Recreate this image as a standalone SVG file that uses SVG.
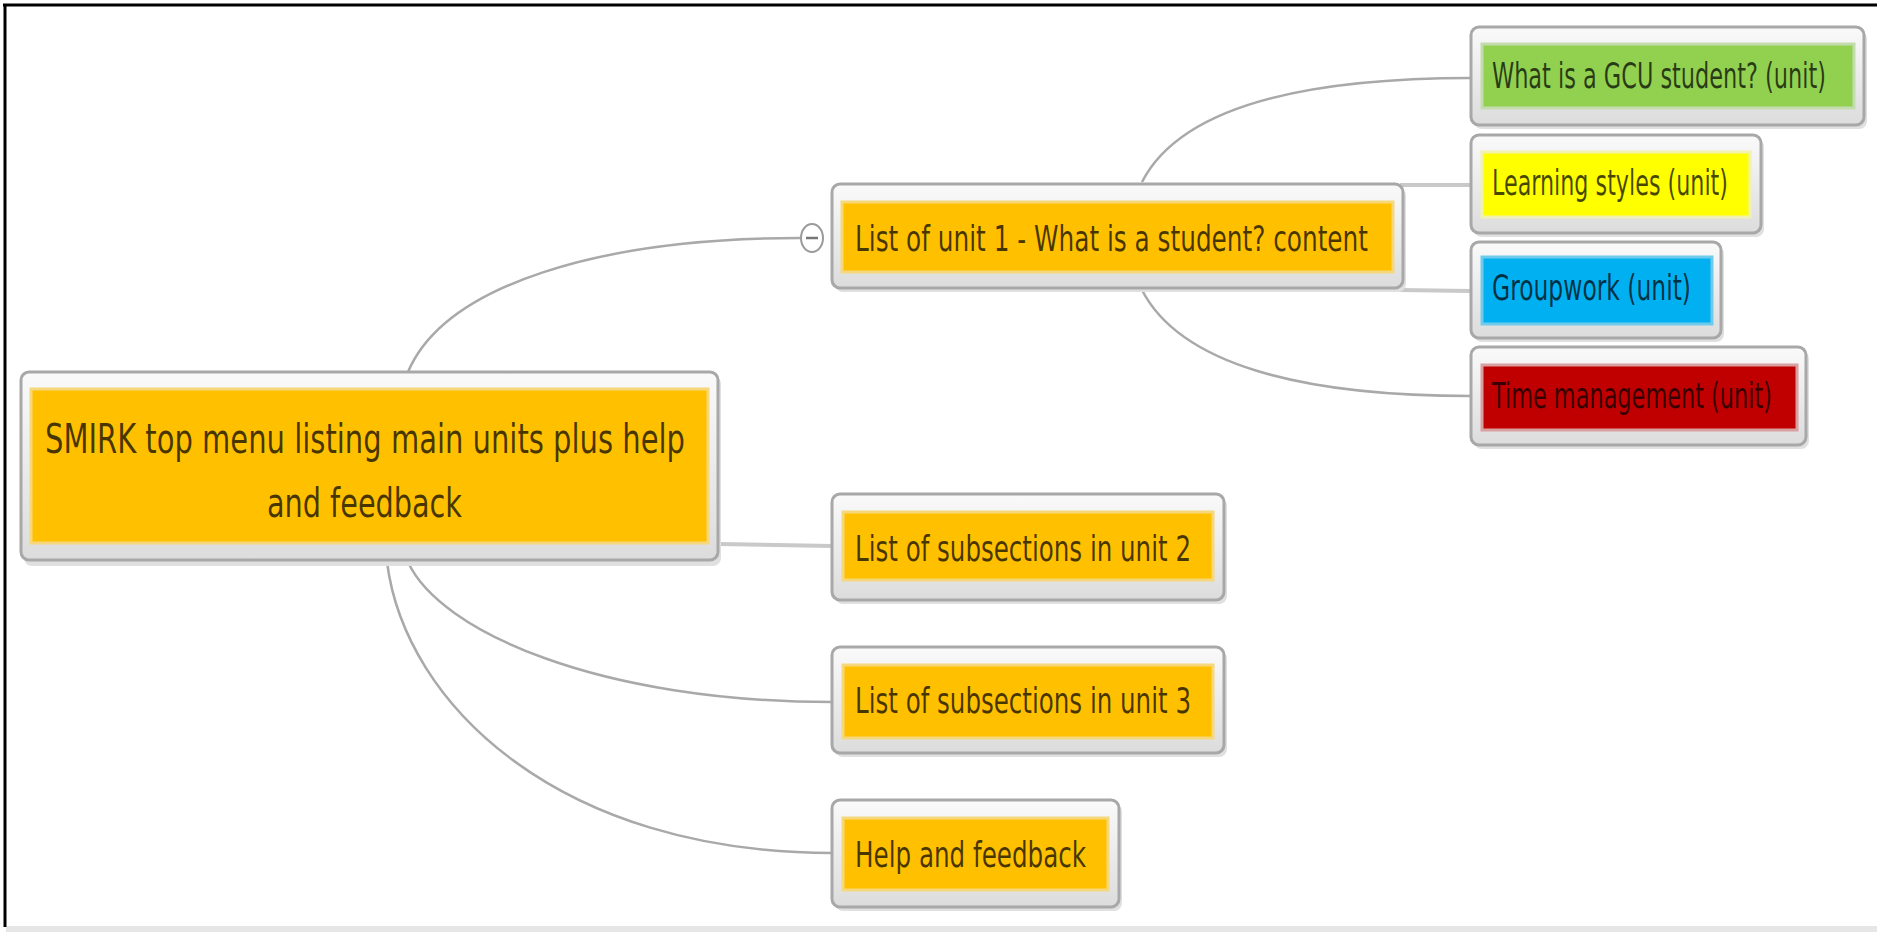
<svg xmlns="http://www.w3.org/2000/svg" width="1877" height="932" viewBox="0 0 1877 932">
<defs>
<linearGradient id="shell" x1="0" y1="0" x2="0" y2="1">
<stop offset="0" stop-color="#fafafa"/>
<stop offset="1" stop-color="#dcdcdc"/>
</linearGradient>
</defs>
<style>
.shadow{fill:#e0e0e0;}
.shell{fill:url(#shell);stroke:#a8a8a8;stroke-width:3;}
.inner{stroke-width:3;}
.orange{fill:#FFC000;stroke:#f6d77c;}
.green{fill:#92D050;stroke:#c3dcae;}
.yellow{fill:#FFFF00;stroke:#f2f2b0;}
.blue{fill:#00B0F0;stroke:#6fcbec;}
.red{fill:#C00000;stroke:#d8a0a0;}
.lbl{font-family:"Liberation Sans Narrow","DejaVu Sans Condensed","Liberation Sans",sans-serif;font-size:36px;fill:#000;fill-opacity:0.72;}
.big{font-size:40px;}
.end{text-anchor:end;}
.curve{fill:none;stroke:#a9a9a9;stroke-width:2.5;}
.straight{fill:none;stroke:#c9c9c9;stroke-width:4;}
</style>
<rect x="0" y="0" width="1877" height="932" fill="#ffffff"/>
<rect x="6" y="926" width="1871" height="6" fill="#e6e6e6"/>
<line x1="3" y1="5" x2="1877" y2="5" stroke="#000" stroke-width="3"/>
<line x1="5" y1="4" x2="5" y2="927" stroke="#000" stroke-width="3"/>

<g id="connectors">
<path class="curve" d="M408,372 C445,285 600,238 800,238"/>
<path class="straight" d="M718,544 L832,546"/>
<path class="curve" d="M408,562 C440,632 600,702 832,702"/>
<path class="curve" d="M387,562 C405,705 560,853 832,853"/>
<path class="curve" d="M1142,182 C1180,108 1300,78 1471,78"/>
<path class="straight" d="M1400,185 L1471,185"/>
<path class="straight" d="M1400,290 L1471,291"/>
<path class="curve" d="M1142,290 C1180,364 1300,396 1471,396"/>
<g id="collapse">
<ellipse cx="812" cy="238" rx="11" ry="14" fill="#ffffff" stroke="#9a9a9a" stroke-width="2"/>
<line x1="806" y1="238" x2="818" y2="238" stroke="#777" stroke-width="2.5"/>
</g>
</g>

<g id="main">
<rect class="shadow" x="24" y="376" width="697" height="190" rx="8"/>
<rect class="shell" x="21" y="372" width="697" height="188" rx="8"/>
<rect class="inner orange" x="31" y="389" width="677" height="154"/>
<text class="lbl big" x="45" y="453" textLength="640" lengthAdjust="spacingAndGlyphs">SMIRK top menu listing main units plus help</text>
<text class="lbl big" x="267" y="517" textLength="195" lengthAdjust="spacingAndGlyphs">and feedback</text>
</g>

<g id="unit1">
<rect class="shadow" x="835" y="188" width="571" height="104" rx="8"/>
<rect class="shell" x="832" y="184" width="571" height="104" rx="8"/>
<rect class="inner orange" x="842" y="202" width="551" height="70"/>
<text class="lbl" x="855" y="251" textLength="513" lengthAdjust="spacingAndGlyphs">List of unit 1 - What is a student? content</text>
</g>

<g id="unit2">
<rect class="shadow" x="835" y="498" width="392" height="106" rx="8"/>
<rect class="shell" x="832" y="494" width="392" height="106" rx="8"/>
<rect class="inner orange" x="843" y="512" width="370" height="68"/>
<text class="lbl" x="855" y="561" textLength="336" lengthAdjust="spacingAndGlyphs">List of subsections in unit 2</text>
</g>

<g id="unit3">
<rect class="shadow" x="835" y="651" width="392" height="106" rx="8"/>
<rect class="shell" x="832" y="647" width="392" height="106" rx="8"/>
<rect class="inner orange" x="843" y="665" width="370" height="73"/>
<text class="lbl" x="855" y="713" textLength="336" lengthAdjust="spacingAndGlyphs">List of subsections in unit 3</text>
</g>

<g id="help">
<rect class="shadow" x="835" y="804" width="287" height="107" rx="8"/>
<rect class="shell" x="832" y="800" width="287" height="107" rx="8"/>
<rect class="inner orange" x="843" y="818" width="265" height="72"/>
<text class="lbl" x="855" y="867" textLength="231" lengthAdjust="spacingAndGlyphs">Help and feedback</text>
</g>

<g id="gcu">
<rect class="shadow" x="1474" y="31" width="393" height="98" rx="8"/>
<rect class="shell" x="1471" y="27" width="393" height="98" rx="8"/>
<rect class="inner green" x="1482" y="44" width="372" height="64"/>
<text class="lbl end" x="1826" y="88" textLength="334" lengthAdjust="spacingAndGlyphs">What is a GCU student? (unit)</text>
</g>

<g id="learning">
<rect class="shadow" x="1474" y="139" width="290" height="98" rx="8"/>
<rect class="shell" x="1471" y="135" width="290" height="98" rx="8"/>
<rect class="inner yellow" x="1482" y="152" width="268" height="65"/>
<text class="lbl end" x="1728" y="195" textLength="236" lengthAdjust="spacingAndGlyphs">Learning styles (unit)</text>
</g>

<g id="groupwork">
<rect class="shadow" x="1474" y="246" width="250" height="96" rx="8"/>
<rect class="shell" x="1471" y="242" width="250" height="96" rx="8"/>
<rect class="inner blue" x="1482" y="257" width="230" height="67"/>
<text class="lbl end" x="1691" y="300" textLength="199" lengthAdjust="spacingAndGlyphs">Groupwork (unit)</text>
</g>

<g id="time">
<rect class="shadow" x="1474" y="351" width="335" height="98" rx="8"/>
<rect class="shell" x="1471" y="347" width="335" height="98" rx="8"/>
<rect class="inner red" x="1482" y="365" width="315" height="65"/>
<text class="lbl end" x="1772" y="408" textLength="280" lengthAdjust="spacingAndGlyphs">Time management (unit)</text>
</g>
</svg>
